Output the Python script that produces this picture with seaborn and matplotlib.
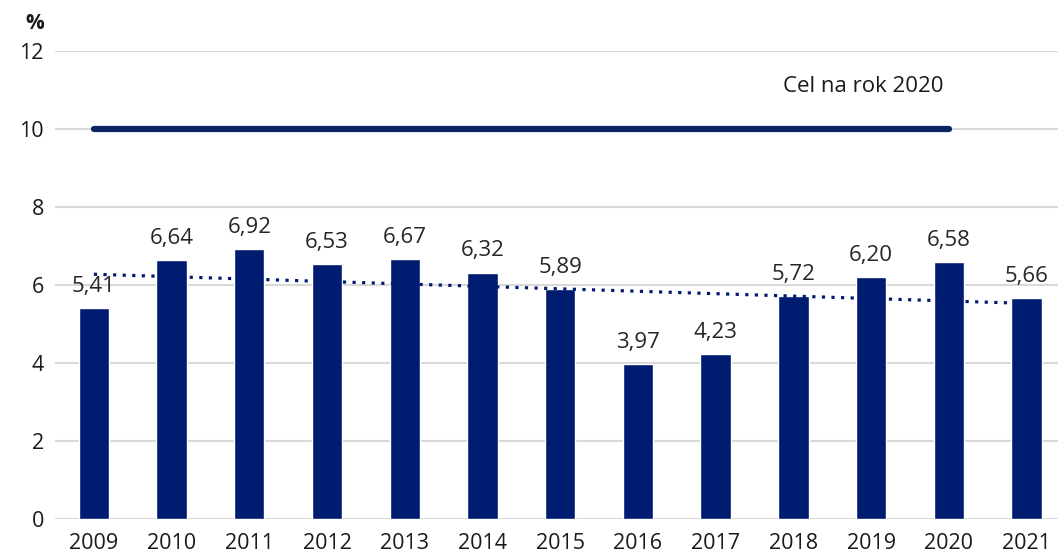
import numpy as np
import pandas as pd
import matplotlib.pyplot as plt
import seaborn as sns

years = ["2009", "2010", "2011", "2012", "2013", "2014", "2015",
         "2016", "2017", "2018", "2019", "2020", "2021"]
values = [5.41, 6.64, 6.92, 6.53, 6.67, 6.32, 5.89, 3.97, 4.23, 5.72, 6.20, 6.58, 5.66]
target_value = 10
target_label = "Cel na rok 2020"
target_end = "2020"

navy = "#001C71"
line_navy = "#0B2563"

sns.set_theme(style="white")
plt.rcParams["font.family"] = ["Open Sans", "DejaVu Sans"]

df = pd.DataFrame({"Rok": years, "Wartosc": values})

fig = plt.figure(figsize=(10.58, 5.6), dpi=100)
ax = fig.add_axes([0.052, 0.073, 0.955, 0.836])

sns.barplot(data=df, x="Rok", y="Wartosc", color=navy, width=0.39,
            saturation=1, ax=ax, zorder=3)

# trend line (linear fit)
pos = np.arange(len(values))
slope, intercept = np.polyfit(pos, values, 1)
ax.plot(pos, slope * pos + intercept, linestyle=(0, (1, 2.0)), color=navy,
        linewidth=2.3, zorder=4)

# 2020 target
end_idx = years.index(target_end)
ax.plot([0, end_idx], [target_value, target_value], color=line_navy,
        linewidth=4.5, solid_capstyle="round", zorder=4)
ax.text(9.9, 11.1, target_label, fontsize=16, ha="center", va="center",
        color="#1a1a1a")

labels = [f"{v:.2f}".replace(".", ",") for v in values]
ax.bar_label(ax.containers[0], labels=labels, padding=8, fontsize=16,
             color="#262626", zorder=5)

ax.set_ylim(0, 12)
ax.set_yticks(range(0, 13, 2))
ax.set_xlim(-0.5, 12.5)
ax.yaxis.grid(True, color="#D9D9D9", linewidth=1.5, zorder=0)
ax.set_axisbelow(True)
for s in ax.spines.values():
    s.set_visible(False)
ax.tick_params(axis="both", length=0, labelsize=15.5, colors="#1a1a1a")
ax.tick_params(axis="x", pad=10)
ax.tick_params(axis="y", pad=8)
ax.set_xlabel("")
ax.set_ylabel("")

fig.text(0.033, 0.958, "%", fontsize=15, fontweight="bold", ha="center",
         va="center", color="#1a1a1a")

fig.savefig("out.png", dpi=100)
plt.close(fig)
